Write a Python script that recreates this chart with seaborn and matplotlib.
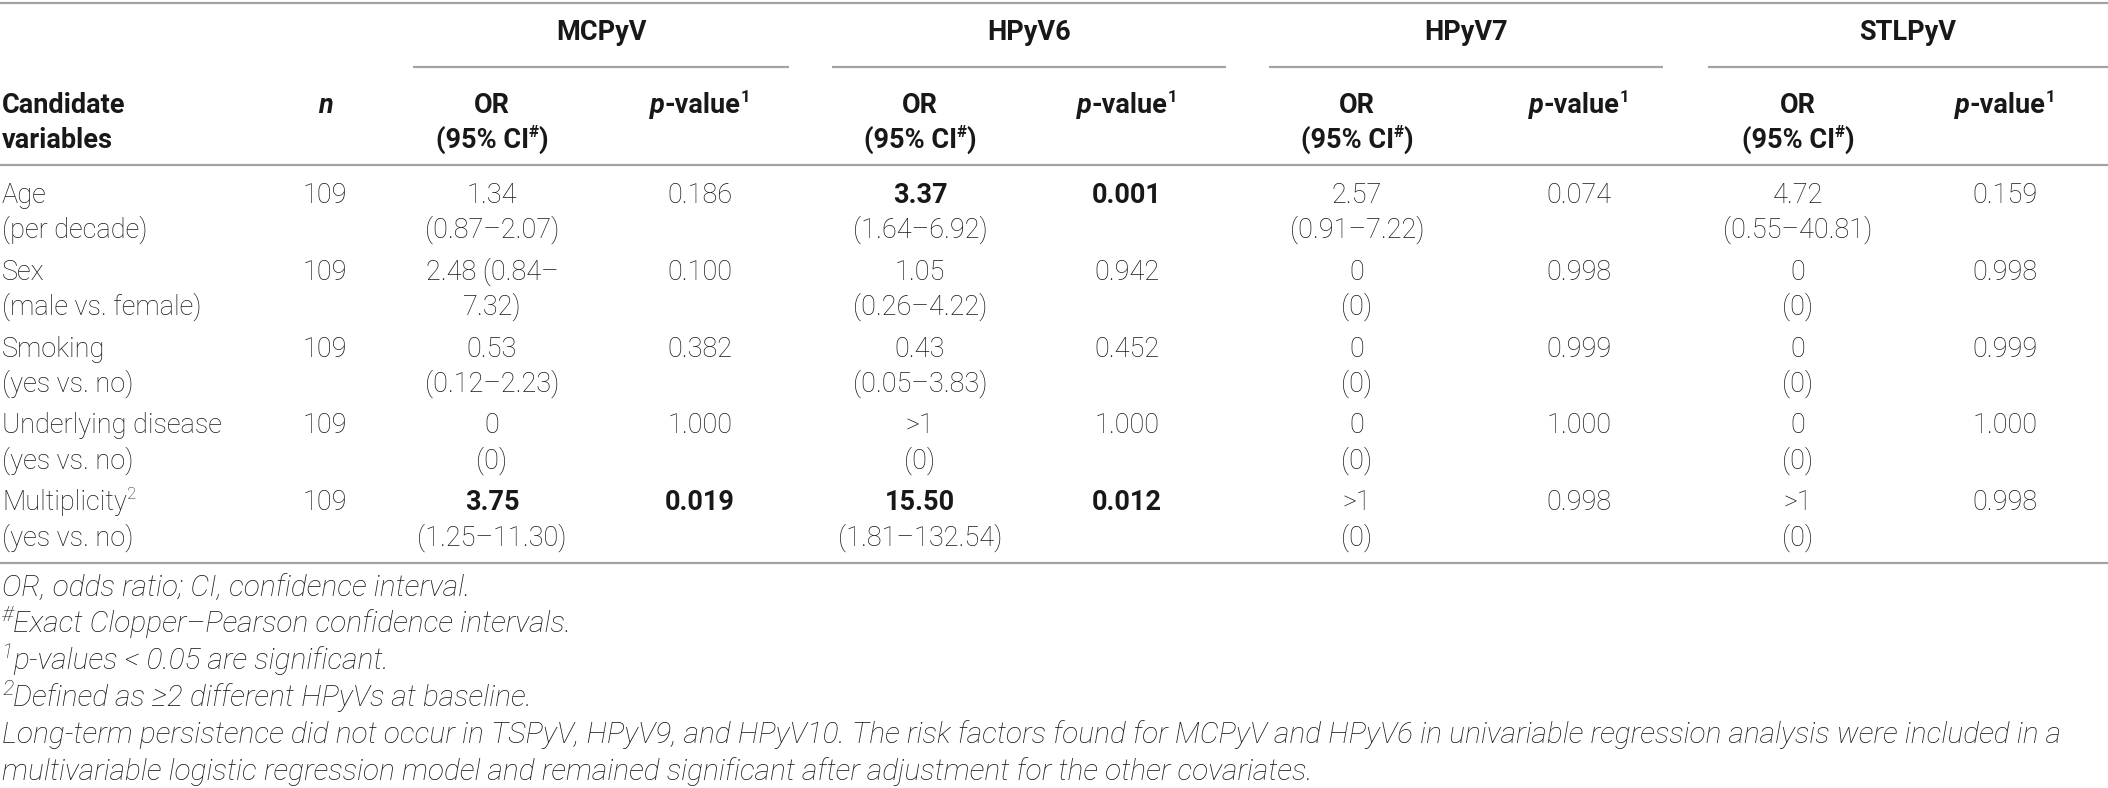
import matplotlib
matplotlib.use("Agg")
import matplotlib.pyplot as plt
import seaborn as sns

# === Table content ===
variables = ["Age", "Sex", "Smoking", "Underlying disease", "Multiplicity"]
variable_notes = ["(per decade)", "(male vs. female)", "(yes vs. no)", "(yes vs. no)", "(yes vs. no)"]
variable_sup = ["", "", "", "", "2"]
n_values = [109, 109, 109, 109, 109]

viruses = ["MCPyV", "HPyV6", "HPyV7", "STLPyV"]

mcpyv_or = ["1.34", "2.48 (0.84–", "0.53", "0", "3.75"]
mcpyv_ci = ["(0.87–2.07)", "7.32)", "(0.12–2.23)", "(0)", "(1.25–11.30)"]
mcpyv_p = ["0.186", "0.100", "0.382", "1.000", "0.019"]
mcpyv_sig = [False, False, False, False, True]

hpyv6_or = ["3.37", "1.05", "0.43", ">1", "15.50"]
hpyv6_ci = ["(1.64–6.92)", "(0.26–4.22)", "(0.05–3.83)", "(0)", "(1.81–132.54)"]
hpyv6_p = ["0.001", "0.942", "0.452", "1.000", "0.012"]
hpyv6_sig = [True, False, False, False, True]

hpyv7_or = ["2.57", "0", "0", "0", ">1"]
hpyv7_ci = ["(0.91–7.22)", "(0)", "(0)", "(0)", "(0)"]
hpyv7_p = ["0.074", "0.998", "0.999", "1.000", "0.998"]
hpyv7_sig = [False, False, False, False, False]

stlpyv_or = ["4.72", "0", "0", "0", ">1"]
stlpyv_ci = ["(0.55–40.81)", "(0)", "(0)", "(0)", "(0)"]
stlpyv_p = ["0.159", "0.998", "0.999", "1.000", "0.998"]
stlpyv_sig = [False, False, False, False, False]

groups = [
    (mcpyv_or, mcpyv_ci, mcpyv_p, mcpyv_sig),
    (hpyv6_or, hpyv6_ci, hpyv6_p, hpyv6_sig),
    (hpyv7_or, hpyv7_ci, hpyv7_p, hpyv7_sig),
    (stlpyv_or, stlpyv_ci, stlpyv_p, stlpyv_sig),
]

footnotes = [
    [("OR, odds ratio; CI, confidence interval.", {})],
    [("#", {"sup": True}), ("Exact Clopper–Pearson confidence intervals.", {})],
    [("1", {"sup": True}), ("p-values < 0.05 are significant.", {})],
    [("2", {"sup": True}), ("Defined as ≥2 different HPyVs at baseline.", {})],
    [("Long-term persistence did not occur in TSPyV, HPyV9, and HPyV10. The risk factors found for "
      "MCPyV and HPyV6 in univariable regression analysis were included in a", {})],
    [("multivariable logistic regression model and remained significant after adjustment for the "
      "other covariates.", {})],
]

# === Layout (pixels) ===
W, H = 2108, 788
FS = 19.5
FOOT_FS = 21.5
TXT = "#1a1718"
RULE = "#a3a3a3"

or_x = [492, 920, 1357, 1798]
p_x = [700, 1127, 1579, 2005]
group_span = [(413, 789), (832, 1226), (1269, 1663), (1708, 2108)]
n_x = 325
row_y0, row_step, line2 = 195, 76.8, 35
foot_y = [588, 624, 661, 698, 735, 772]

sns.set_theme(style="white")
plt.rcParams["font.family"] = ["Roboto", "DejaVu Sans"]

fig = plt.figure(figsize=(W / 100, H / 100), dpi=100)
ax = fig.add_axes([0, 0, 1, 1])
ax.set_xlim(0, W)
ax.set_ylim(H, 0)
ax.axis("off")
renderer = fig.canvas.get_renderer()


def put(x, y, runs, ha="left", weight="light", style="normal", size=FS, sup_scale=0.62):
    # runs of text drawn side by side, superscripts raised and smaller
    arts = []
    for txt, kw in runs:
        sup = kw.get("sup", False)
        t = ax.text(0, y + 8 - (11 if sup else 0), txt,
                    fontsize=size * (sup_scale if sup else 1.0),
                    fontweight=kw.get("weight", weight),
                    fontstyle=kw.get("style", style),
                    color=TXT, va="baseline", ha="left")
        arts.append((t, t.get_window_extent(renderer=renderer).width))
    total = sum(w for _, w in arts)
    cur = x if ha == "left" else x - total / 2
    for t, w in arts:
        t.set_x(cur)
        cur += w


# rules
ax.hlines([3, 165, 563], 0, W, color=RULE, lw=1.6)
for a, b in group_span:
    ax.hlines(67, a, b, color=RULE, lw=1.6)

# group titles
for name, (a, b) in zip(viruses, group_span):
    put((a + b) / 2, 32, [(name, {})], ha="center", weight="bold")

# column headers
put(2, 105, [("Candidate", {})], weight="bold")
put(2, 140, [("variables", {})], weight="bold")
put(n_x, 105, [("n", {"style": "italic"})], ha="center", weight="bold")
for ox, px in zip(or_x, p_x):
    put(ox, 105, [("OR", {})], ha="center", weight="bold")
    put(ox, 140, [("(95% CI", {}), ("#", {"sup": True}), (")", {})], ha="center", weight="bold")
    put(px, 105, [("p", {"style": "italic"}), ("-value", {}), ("1", {"sup": True})],
        ha="center", weight="bold")

# body rows
for i, (var, note, sup, n) in enumerate(zip(variables, variable_notes, variable_sup, n_values)):
    y = row_y0 + i * row_step
    runs = [(var, {})] + ([(sup, {"sup": True})] if sup else [])
    put(2, y, runs)
    put(2, y + line2, [(note, {})])
    put(n_x, y, [(str(n), {})], ha="center")
    for (ors, cis, ps, sig), ox, px in zip(groups, or_x, p_x):
        w = "bold" if sig[i] else "light"
        put(ox, y, [(ors[i], {})], ha="center", weight=w)
        put(ox, y + line2, [(cis[i], {})], ha="center")
        put(px, y, [(ps[i], {})], ha="center", weight=w)

# footnotes
for y, runs in zip(foot_y, footnotes):
    put(2, y, runs, style="italic", size=FOOT_FS, sup_scale=0.72)

fig.savefig("out.png", dpi=100)
